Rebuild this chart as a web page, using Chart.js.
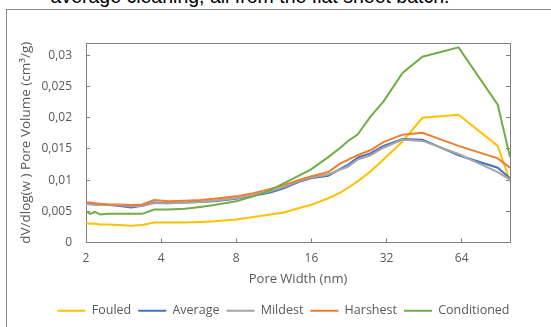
<!DOCTYPE html>
<html>
<head>
<meta charset="utf-8">
<script src="https://cdn.jsdelivr.net/npm/chart.js@4/dist/chart.umd.min.js"></script>
<style>
  html, body { margin: 0; padding: 0; background: #fff; width: 551px; height: 327px; overflow: hidden; position: relative; }
  #caption { position: absolute; left: 0; top: -15px; width: 500px; text-align: center; font: 19.5px "Liberation Sans", Arial, sans-serif; color: #000; white-space: nowrap; }
  #frame { position: absolute; left: 6px; top: 9px; width: 600px; height: 400px; border: 1px solid #8a8a8a; }
  #wrap { position: absolute; left: 0; top: 0; }
</style>
</head>
<body>
<div id="caption">average cleaning, all from the flat sheet batch.</div>
<div id="frame"></div>
<div id="wrap"><canvas id="chart" width="551" height="327"></canvas></div>
<script>
// pore width (nm) and dV/dlog(w) for each sample
const poreWidth = [2.0, 2.08, 2.17, 2.28, 2.45, 2.69, 3.03, 3.36, 3.75, 4.27, 4.99, 5.74, 6.53, 8.0, 9.36,
  10.95, 12.4, 14.2, 15.9, 18.7, 20.9, 22.3, 24.5, 27.6, 31.1, 37.1, 44.6, 62.2, 89.3, 100];

const fouled = [0.0031, 0.0030, 0.0030, 0.0029, 0.0029, 0.0028, 0.0027, 0.0028, 0.0032, 0.0032, 0.0032, 0.0033, 0.0034, 0.0037, 0.0041,
  0.0045, 0.0048, 0.0055, 0.0060, 0.0071, 0.0080, 0.0087, 0.0098, 0.0114, 0.0133, 0.0162, 0.0200, 0.0205, 0.0155, 0.0098];
const average = [0.0063, 0.0062, 0.0061, 0.0061, 0.0060, 0.0059, 0.0056, 0.0059, 0.0064, 0.0063, 0.0064, 0.0065, 0.0066, 0.0070, 0.0075,
  0.0080, 0.0087, 0.0097, 0.0103, 0.0107, 0.0118, 0.0124, 0.0136, 0.0143, 0.0155, 0.0166, 0.0165, 0.0140, 0.0120, 0.0103];
const mildest = [0.0062, 0.0061, 0.0061, 0.0060, 0.0060, 0.0060, 0.0058, 0.0059, 0.0063, 0.0063, 0.0064, 0.0065, 0.0067, 0.0071, 0.0076,
  0.0082, 0.0089, 0.0098, 0.0104, 0.0109, 0.0117, 0.0121, 0.0133, 0.0140, 0.0152, 0.0165, 0.0163, 0.0142, 0.0113, 0.0101];
const harshest = [0.0064, 0.0064, 0.0063, 0.0062, 0.0061, 0.0061, 0.0060, 0.0061, 0.0068, 0.0066, 0.0067, 0.0068, 0.0070, 0.0074, 0.0079,
  0.0086, 0.0092, 0.0100, 0.0106, 0.0113, 0.0127, 0.0132, 0.0140, 0.0148, 0.0161, 0.0173, 0.0176, 0.0155, 0.0135, 0.0120];
const conditioned = [0.0050, 0.0046, 0.0049, 0.0045, 0.0046, 0.0046, 0.0046, 0.0046, 0.0053, 0.0053, 0.0054, 0.0057, 0.0060, 0.0066, 0.0074,
  0.0084, 0.0095, 0.0107, 0.0117, 0.0137, 0.0152, 0.0162, 0.0173, 0.0202, 0.0226, 0.0272, 0.0298, 0.0313, 0.0221, 0.0137];

const xTicks = [2, 4, 8, 16, 32, 64];
const yTicks = [0, 0.005, 0.01, 0.015, 0.02, 0.025, 0.03];

const series = [
  { label: 'Fouled', values: fouled, color: '#FFC000' },
  { label: 'Average', values: average, color: '#4472C4' },
  { label: 'Mildest', values: mildest, color: '#A5A5A5' },
  { label: 'Harshest', values: harshest, color: '#ED7D31' },
  { label: 'Conditioned', values: conditioned, color: '#70AD47' }
];

const axisColor = '#7f7f7f';
const textColor = '#595959';
const font = 'Open Sans';

// top edge of the plot box (the axes draw the other three sides)
const topBorder = {
  id: 'topBorder',
  afterDraw(chart) {
    const { ctx, chartArea } = chart;
    ctx.save();
    ctx.strokeStyle = axisColor;
    ctx.lineWidth = 1;
    ctx.beginPath();
    ctx.moveTo(chartArea.left, Math.round(chartArea.top) + 0.5);
    ctx.lineTo(chartArea.right, Math.round(chartArea.top) + 0.5);
    ctx.stroke();
    ctx.restore();
  }
};

const setYTicks = s => { s.ticks = yTicks.map(v => ({ value: v })); };

new Chart(document.getElementById('chart'), {
  type: 'line',
  data: {
    datasets: series.map((s, i) => ({
      label: s.label,
      data: poreWidth.map((w, j) => ({ x: w, y: s.values[j] })),
      borderColor: s.color,
      backgroundColor: s.color,
      borderWidth: 2,
      pointRadius: 0,
      tension: 0,
      order: series.length - i
    }))
  },
  options: {
    responsive: false,
    animation: false,
    layout: { padding: { top: 43, right: 0, left: 16, bottom: 0 } },
    plugins: {
      tooltip: { enabled: false },
      legend: {
        position: 'bottom',
        labels: {
          usePointStyle: true,
          pointStyle: 'line',
          pointStyleWidth: 28,
          padding: 7,
          color: textColor,
          font: { family: font, size: 12.5 },
          sort: (a, b) => a.datasetIndex - b.datasetIndex
        }
      }
    },
    scales: {
      x: {
        type: 'logarithmic',
        min: 2,
        max: 100,
        afterBuildTicks: s => { s.ticks = xTicks.map(v => ({ value: v })); },
        afterFit: s => { s.height = 55; },
        ticks: { color: textColor, font: { family: font, size: 12 }, padding: 13, callback: v => String(v) },
        grid: { drawOnChartArea: false, tickLength: -4, color: axisColor },
        border: { color: axisColor },
        title: { display: true, text: 'Pore Width (nm)', color: textColor, font: { family: font, size: 13 }, padding: { top: 0, bottom: 10 } }
      },
      y: {
        min: 0,
        max: 0.032,
        afterBuildTicks: setYTicks,
        afterFit: s => { s.width = 70; },
        ticks: { color: textColor, font: { family: font, size: 12 }, padding: 18, callback: v => String(Number(v.toFixed(3))).replace('.', ',') },
        grid: { drawOnChartArea: false, tickLength: -4, color: axisColor },
        border: { color: axisColor },
        title: { display: true, text: 'dV/dlog(w ) Pore Volume (cm³/g)', color: textColor, font: { family: font, size: 13.5 }, padding: { top: 2, bottom: 0 } }
      },
      y2: {
        position: 'right',
        min: 0,
        max: 0.032,
        afterBuildTicks: setYTicks,
        afterFit: s => { s.width = 41; },
        ticks: { display: false },
        grid: { drawOnChartArea: false, tickLength: -4, color: axisColor },
        border: { color: axisColor }
      }
    }
  },
  plugins: [topBorder]
});
</script>
</body>
</html>
